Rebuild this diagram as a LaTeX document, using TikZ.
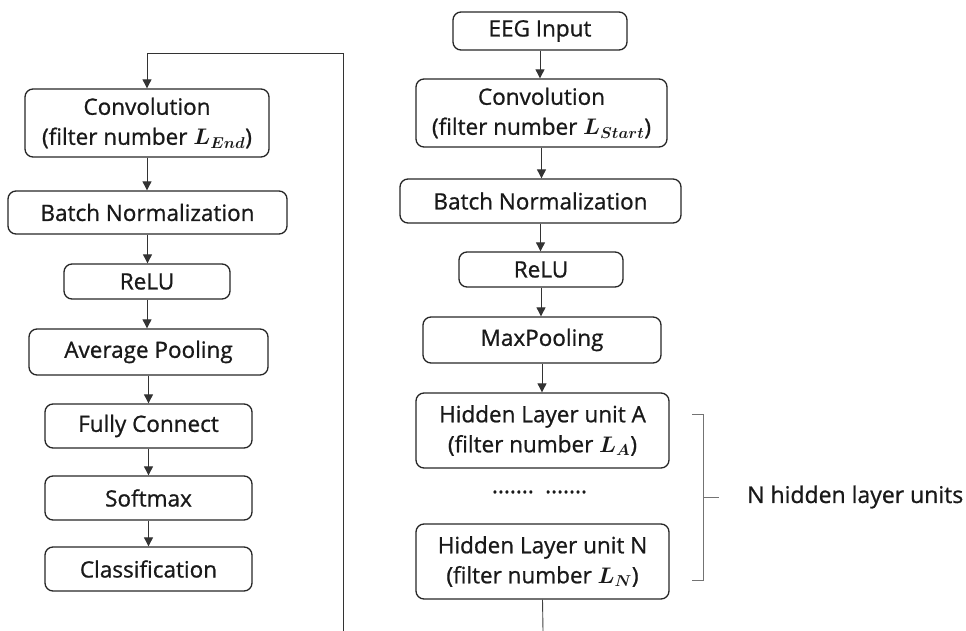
\documentclass[tikz,border=0pt]{standalone}
\usepackage{fix-cm}
\usepackage{amsmath,bm}
\usepackage{fontspec}
\setmainfont{Open Sans}[FakeBold=0.9]
\usetikzlibrary{arrows.meta}
\begin{document}
\begin{tikzpicture}[x=1pt,y=-1pt,
  blk/.style={draw=black!85, line width=1.3pt, rounded corners=8pt, align=center,
    inner sep=0pt, text=black!90, font=\fontsize{22.5}{30}\selectfont},
  arr/.style={draw=black!80, line width=0.9pt, -{Triangle[width=9pt,length=9pt]}},
  ln/.style={draw=black!75, line width=0.9pt},
  brk/.style={draw=black!55, line width=0.9pt}]
\useasboundingbox (0,0) rectangle (966,631);
% left column
\node[blk, minimum width=244pt, minimum height=68pt] (convL) at (147,123) {Convolution\\(filter number $\bm{L_{End}}$)};
\node[blk, minimum width=279pt, minimum height=43pt] (bnL) at (147.5,212.5) {Batch Normalization};
\node[blk, minimum width=166pt, minimum height=35pt] (reluL) at (147,281.5) {ReLU};
\node[blk, minimum width=239pt, minimum height=46pt] (avgL) at (148.5,352) {Average Pooling};
\node[blk, minimum width=207pt, minimum height=44pt] (fcL) at (148.5,426) {Fully Connect};
\node[blk, minimum width=207pt, minimum height=44pt] (smL) at (148.5,498) {Softmax};
\node[blk, minimum width=207pt, minimum height=44pt] (clsL) at (148.5,569) {Classification};
\coordinate (wrapB) at (343,631);
\coordinate (wrapT) at (343,53);
\draw[arr] (wrapB) -- (wrapT) -- (wrapT -| convL.north) -- (convL.north);
\draw[arr] (convL.south) -- (convL.south |- bnL.north);
\draw[arr] (bnL.south) -- (bnL.south |- reluL.north);
\draw[arr] (reluL.south) -- (reluL.south |- avgL.north);
\draw[arr] (avgL.south) -- (avgL.south |- fcL.north);
\draw[arr] (fcL.south) -- (fcL.south |- smL.north);
\draw[arr] (smL.south) -- (smL.south |- clsL.north);
% right column
\node[blk, minimum width=174pt, minimum height=38pt] (eeg) at (540,31) {EEG Input};
\node[blk, minimum width=251pt, minimum height=68pt] (convR) at (541.5,113) {Convolution\\(filter number $\bm{L_{Start}}$)};
\node[blk, minimum width=281pt, minimum height=44pt] (bnR) at (540.5,201) {Batch Normalization};
\node[blk, minimum width=164pt, minimum height=35pt] (reluR) at (541,269.5) {ReLU};
\node[blk, minimum width=238pt, minimum height=46pt] (mpR) at (542,340) {MaxPooling};
\node[blk, minimum width=253pt, minimum height=75pt] (hA) at (542.5,430.5) {Hidden Layer unit A\\(filter number $\bm{L_{A}}$)};
\node[text=black!90, font=\fontsize{22.5}{30}\selectfont, inner sep=0pt] (dots) at (539.5,492) {.......\hspace{0.5em}.......};
\node[blk, minimum width=253pt, minimum height=75pt] (hN) at (542.5,561.5) {Hidden Layer unit N\\(filter number $\bm{L_{N}}$)};
\draw[arr] (eeg.south) -- (eeg.south |- convR.north);
\draw[arr] (convR.south) -- (convR.south |- bnR.north);
\draw[arr] (bnR.south) -- (bnR.south |- reluR.north);
\draw[arr] (reluR.south) -- (reluR.south |- mpR.north);
\draw[arr] (mpR.south) -- (mpR.south |- hA.north);
\coordinate (outB) at (543,631);
\draw[ln] (hN.south) -- (outB);
% bracket
\coordinate (bt) at (692,414);
\coordinate (bb) at (692,580);
\coordinate (bm) at (719,497);
\draw[brk] (bt) -- (703,414) -- (703,580) -- (bb);
\draw[brk] (703,497) -- (bm);
\node[anchor=west, text=black!90, font=\fontsize{23}{28}\selectfont, inner sep=0pt] (lbl) at (747,497) {N hidden layer units};
\end{tikzpicture}
\end{document}
